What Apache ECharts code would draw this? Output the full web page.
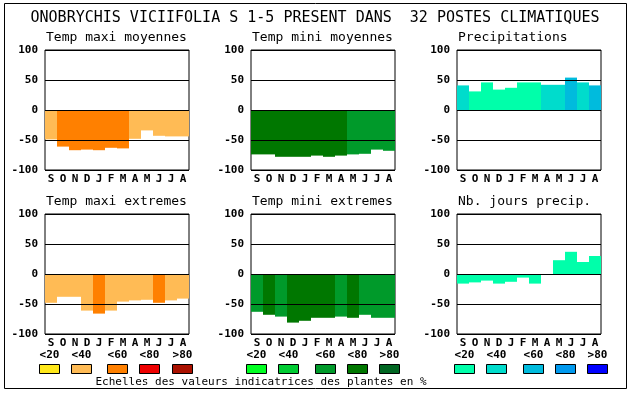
<!DOCTYPE html>
<html><head><meta charset="utf-8">
<script src="https://cdn.jsdelivr.net/npm/echarts@6/dist/echarts.min.js"></script>
<style>html,body{margin:0;padding:0;background:#fff}#c{width:630px;height:394px}</style>
</head><body><div id="c"></div>
<script>
const titleText = 'ONOBRYCHIS VICIIFOLIA S 1-5 PRESENT DANS  32 POSTES CLIMATIQUES';
const footText = 'Echelles des valeurs indicatrices des plantes en %';
const months = ['S','O','N','D','J','F','M','A','M','J','J','A'];
const classLabels = ['<20','<40','<60','<80','>80'];
const orangeScale = ['#ffe81a','#ffbb55','#ff8000','#ee0000','#aa1100'];
const greenScale = ['#00ff22','#00cc33','#009a2a','#007700','#006622'];
const blueScale = ['#00ffaa','#00dccc','#00bbdd','#0099ee','#0000ff'];

const panelTitles = ['Temp maxi moyennes','Temp mini moyennes','Precipitations','Temp maxi extremes','Temp mini extremes','Nb. jours precip.'];
const tmaxMoy = [-49,-61,-67,-66,-67,-63,-64,-48,-34,-43,-44,-44];
const tmaxMoyCls = [1,2,2,2,2,2,2,1,1,1,1,1];
const tminMoy = [-74,-74,-78,-78,-78,-76,-78,-76,-74,-73,-66,-68];
const tminMoyCls = [3,3,3,3,3,3,3,3,2,2,2,2];
const precip = [41,31,46,34,37,46,46,42,42,54,46,41];
const precipCls = [1,0,0,0,0,0,0,1,1,2,1,2];
const tmaxExt = [-48,-38,-38,-61,-66,-61,-46,-44,-43,-48,-44,-41];
const tmaxExtCls = [1,1,1,1,2,1,1,1,1,2,1,1];
const tminExt = [-63,-68,-71,-81,-78,-73,-73,-71,-73,-68,-73,-73];
const tminExtCls = [2,3,2,3,3,3,3,2,3,2,2,2];
const nbJours = [-16,-14,-11,-16,-13,-6,-16,0,23,37,20,30];
const nbJoursCls = [0,0,0,0,0,0,0,0,0,0,0,0];

const panels = [
  {vals: tmaxMoy, cls: tmaxMoyCls, pal: orangeScale},
  {vals: tminMoy, cls: tminMoyCls, pal: greenScale},
  {vals: precip, cls: precipCls, pal: blueScale},
  {vals: tmaxExt, cls: tmaxExtCls, pal: orangeScale},
  {vals: tminExt, cls: tminExtCls, pal: greenScale},
  {vals: nbJours, cls: nbJoursCls, pal: blueScale}
];
const colLeft = [45, 251, 457];
const rowTop = [50, 214];
const FONT = 'DejaVu Sans Mono';

const grids = [], xAxes = [], yAxes = [], series = [], graphics = [];
panels.forEach((p, i) => {
  const col = i % 3, row = Math.floor(i / 3);
  grids.push({left: colLeft[col], top: rowTop[row], width: 144, height: 120, show: true,
    borderColor: '#000', borderWidth: 1, backgroundColor: '#fff'});
  xAxes.push({type: 'category', gridIndex: i, data: months, boundaryGap: true,
    axisLine: {show: false}, axisTick: {show: false}, splitLine: {show: false},
    axisLabel: {interval: 0, margin: 4, color: '#000', fontFamily: FONT, fontWeight: 'bold', fontSize: 11}});
  yAxes.push({type: 'value', gridIndex: i, min: -100, max: 100, interval: 50, z: 5,
    axisLine: {show: false}, axisTick: {show: false},
    splitLine: {show: true, lineStyle: {color: '#000', width: 1}},
    axisLabel: {margin: 7, color: '#000', fontFamily: FONT, fontWeight: 'bold', fontSize: 11}});
  series.push({type: 'bar', xAxisIndex: i, yAxisIndex: i, barWidth: '100%', barCategoryGap: 0,
    silent: true, animation: false,
    data: p.vals.map((v, k) => ({value: v, itemStyle: {color: p.pal[p.cls[k]]}}))});
  graphics.push({type: 'text', left: colLeft[col] + 1, top: rowTop[row] - 19,
    style: {text: panelTitles[i], fill: '#000', font: '13px "' + FONT + '"'}});
});

graphics.push({type: 'rect', shape: {x: 4.5, y: 3.5, width: 622, height: 385},
  style: {fill: 'none', stroke: '#000', lineWidth: 1}, z: -1});
graphics.push({type: 'text', x: 315, y: 18,
  style: {text: titleText, fill: '#000', font: '15px "' + FONT + '"', textAlign: 'center', textVerticalAlign: 'middle'}});
graphics.push({type: 'text', x: 261, y: 382,
  style: {text: footText, fill: '#000', font: '11px "' + FONT + '"', textAlign: 'center', textVerticalAlign: 'middle'}});

const legendBoxX = [[39.5, 71.5, 107.5, 139.5, 172.5], [246.5, 278.5, 315.5, 347.5, 379.5], [454.5, 486.5, 523.5, 555.5, 587.5]];
const pals = [orangeScale, greenScale, blueScale];
legendBoxX.forEach((xs, g) => {
  xs.forEach((x, k) => {
    graphics.push({type: 'rect', shape: {x: x, y: 364.5, width: 20, height: 9},
      style: {fill: pals[g][k], stroke: '#000', lineWidth: 1}});
    graphics.push({type: 'text', x: x + 10, y: 355,
      style: {text: classLabels[k], fill: '#000', font: 'bold 11px "' + FONT + '"', textAlign: 'center', textVerticalAlign: 'middle'}});
  });
});

const chart = echarts.init(document.getElementById('c'), null, {renderer: 'canvas'});
chart.setOption({animation: false, backgroundColor: '#fff', grid: grids, xAxis: xAxes, yAxis: yAxes, series: series, graphic: graphics});
</script></body></html>
